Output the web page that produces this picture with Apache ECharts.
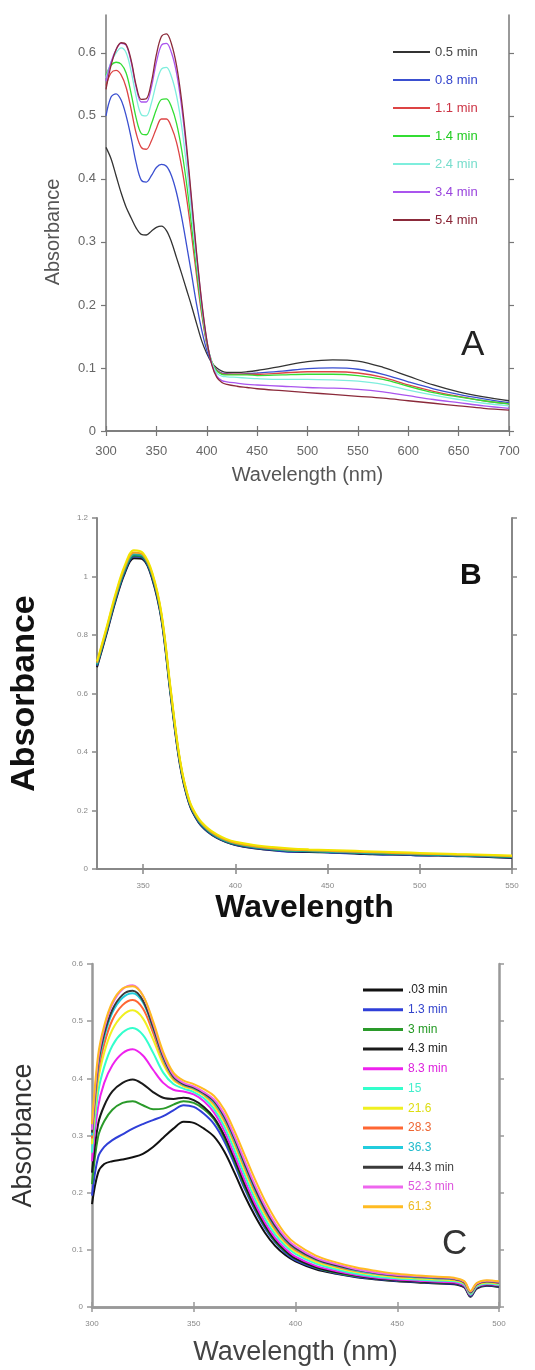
<!DOCTYPE html>
<html><head><meta charset="utf-8">
<script src="https://cdn.jsdelivr.net/npm/echarts@6/dist/echarts.min.js"></script>
<style>html,body{margin:0;padding:0;background:#fff}#c{width:535px;height:1370px}</style>
</head><body><div id="c"></div><script>
// ---------------- Panel A ----------------
const A_WAVE = [300,305,310,315,320,325,330,335,340,345,350,355,360,365,370,375,380,385,390,395,400,405,410,415,420,430,440,450,475,500,525,550,575,600,625,650,675,700];
const A_XTICKS = [300,350,400,450,500,550,600,650,700];
const A_YTICKS = [0,0.1,0.2,0.3,0.4,0.5,0.6];
const A_NAMES = ['0.5 min','0.8 min','1.1 min','1.4 min','2.4 min','3.4 min','5.4 min'];
const A_COLORS = ['#333333','#3a4fd0','#dd4444','#33dd33','#7eeedd','#aa55ee','#8b2a3a'];
const A_TEXT_COLORS = ['#444444','#3344cc','#cc3344','#22cc22','#77ddcc','#9944dd','#882233'];
const A_05 = [0.450,0.432,0.405,0.378,0.355,0.338,0.322,0.312,0.311,0.317,0.323,0.325,0.318,0.300,0.275,0.250,0.224,0.198,0.170,0.143,0.123,0.108,0.100,0.095,0.093,0.093,0.094,0.096,0.103,0.110,0.113,0.111,0.101,0.087,0.073,0.062,0.054,0.048];
const A_08 = [0.500,0.530,0.535,0.525,0.500,0.465,0.425,0.398,0.395,0.405,0.418,0.423,0.420,0.405,0.378,0.340,0.295,0.248,0.200,0.160,0.128,0.108,0.097,0.092,0.091,0.090,0.091,0.092,0.095,0.099,0.100,0.098,0.090,0.078,0.067,0.058,0.051,0.045];
const A_11 = [0.548,0.568,0.572,0.565,0.545,0.510,0.472,0.450,0.447,0.460,0.480,0.495,0.495,0.482,0.458,0.420,0.370,0.310,0.245,0.185,0.138,0.110,0.096,0.091,0.090,0.090,0.090,0.090,0.092,0.094,0.094,0.092,0.085,0.073,0.063,0.055,0.048,0.043];
const A_14 = [0.565,0.580,0.585,0.582,0.568,0.535,0.496,0.472,0.470,0.487,0.510,0.526,0.527,0.514,0.488,0.447,0.392,0.325,0.255,0.190,0.140,0.110,0.095,0.090,0.089,0.089,0.089,0.088,0.089,0.090,0.090,0.088,0.082,0.071,0.061,0.054,0.048,0.043];
const A_24 = [0.560,0.585,0.600,0.608,0.600,0.570,0.530,0.502,0.500,0.520,0.552,0.574,0.577,0.562,0.532,0.485,0.420,0.345,0.268,0.198,0.143,0.109,0.092,0.087,0.086,0.085,0.084,0.083,0.082,0.082,0.081,0.079,0.074,0.065,0.057,0.050,0.044,0.040];
const A_34 = [0.555,0.585,0.605,0.615,0.612,0.585,0.545,0.522,0.522,0.545,0.585,0.612,0.615,0.600,0.568,0.515,0.445,0.362,0.278,0.203,0.144,0.106,0.087,0.080,0.078,0.076,0.074,0.073,0.071,0.069,0.068,0.066,0.062,0.056,0.050,0.045,0.040,0.036];
const A_54 = [0.542,0.580,0.605,0.616,0.613,0.588,0.548,0.526,0.527,0.553,0.597,0.626,0.630,0.614,0.580,0.525,0.452,0.367,0.281,0.205,0.145,0.105,0.085,0.077,0.074,0.071,0.069,0.067,0.064,0.061,0.058,0.055,0.052,0.048,0.044,0.040,0.036,0.033];
const A_SERIES = [A_05,A_08,A_11,A_14,A_24,A_34,A_54];

// ---------------- Panel B ----------------
const B_WAVE = [325,330,335,340,345,350,355,360,365,370,375,380,385,390,395,400,410,420,430,440,450,460,470,480,490,500,510,520,530,540,550];
const B_XTICKS = [350,400,450,500,550];
const B_YTICKS = [0,0.2,0.4,0.6,0.8,1,1.2];
const B_NAMES = ['scan 1','scan 2','scan 3','scan 4','scan 5','scan 6'];
const B_COLORS = ['#111111','#2233bb','#1e8c3a','#22aaaa','#f0a020','#f2e400'];
const B_1 = [0.690,0.800,0.915,1.010,1.062,1.058,0.990,0.850,0.590,0.355,0.222,0.160,0.127,0.106,0.092,0.082,0.071,0.064,0.060,0.058,0.057,0.055,0.051,0.050,0.049,0.047,0.046,0.045,0.043,0.040,0.038];
const B_2 = [0.695,0.805,0.920,1.015,1.068,1.062,0.995,0.855,0.595,0.360,0.225,0.162,0.128,0.107,0.093,0.083,0.072,0.065,0.059,0.060,0.056,0.054,0.053,0.049,0.050,0.046,0.047,0.044,0.044,0.041,0.039];
const B_3 = [0.698,0.810,0.925,1.020,1.072,1.066,1.000,0.860,0.600,0.364,0.228,0.165,0.131,0.110,0.095,0.085,0.074,0.067,0.062,0.061,0.058,0.057,0.054,0.052,0.051,0.049,0.048,0.046,0.045,0.043,0.041];
const B_4 = [0.700,0.812,0.928,1.024,1.076,1.070,1.004,0.864,0.604,0.367,0.230,0.167,0.133,0.111,0.096,0.087,0.075,0.068,0.063,0.062,0.059,0.058,0.055,0.054,0.052,0.050,0.049,0.047,0.046,0.044,0.042];
const B_5 = [0.705,0.817,0.934,1.030,1.082,1.074,1.008,0.868,0.608,0.370,0.233,0.170,0.136,0.114,0.099,0.089,0.078,0.071,0.066,0.064,0.062,0.060,0.058,0.056,0.054,0.052,0.051,0.049,0.048,0.046,0.044];
const B_6 = [0.710,0.822,0.940,1.037,1.090,1.080,1.013,0.873,0.613,0.374,0.236,0.174,0.140,0.118,0.103,0.093,0.082,0.075,0.070,0.067,0.065,0.063,0.061,0.059,0.057,0.055,0.053,0.051,0.050,0.048,0.046];
const B_SERIES = [B_1,B_2,B_3,B_4,B_5,B_6];

// ---------------- Panel C ----------------
const C_WAVE = [300,303,306,310,315,320,325,330,335,340,345,350,355,360,365,370,375,380,385,390,395,400,410,420,430,440,450,460,470,478,483,486,489,494,500];
const C_XTICKS = [300,350,400,450,500];
const C_YTICKS = [0,0.1,0.2,0.3,0.4,0.5,0.6];
const C_NAMES = ['.03 min','1.3 min','3 min','4.3 min','8.3 min','15','21.6','28.3','36.3','44.3 min','52.3 min','61.3'];
const C_COLORS = ['#111111','#2f3fd8','#2a9a2a','#1a1a1a','#ee22ee','#33ffcc','#f0f020','#ff6633','#22ccdd','#3a3a3a','#ee66ee','#ffbb22'];
const C_TEXT_COLORS = ['#222222','#3344cc','#229922','#222222','#dd22dd','#44eecc','#dddd11','#ee6633','#22bbcc','#444444','#dd55dd','#eebb22'];
const C_003 = [0.180,0.235,0.250,0.255,0.258,0.262,0.268,0.280,0.296,0.312,0.324,0.322,0.312,0.298,0.272,0.235,0.195,0.160,0.130,0.107,0.091,0.080,0.066,0.058,0.052,0.048,0.045,0.043,0.041,0.040,0.034,0.018,0.032,0.037,0.035];
const C_13 = [0.195,0.262,0.280,0.292,0.302,0.312,0.320,0.327,0.334,0.344,0.353,0.350,0.338,0.320,0.290,0.250,0.207,0.170,0.138,0.113,0.095,0.082,0.068,0.059,0.053,0.049,0.046,0.044,0.042,0.041,0.035,0.019,0.033,0.038,0.036];
const C_3 = [0.215,0.298,0.325,0.345,0.357,0.360,0.353,0.346,0.347,0.354,0.360,0.357,0.346,0.328,0.296,0.255,0.211,0.173,0.141,0.115,0.097,0.084,0.069,0.060,0.054,0.050,0.047,0.045,0.043,0.042,0.036,0.020,0.034,0.039,0.037];
const C_43 = [0.235,0.320,0.352,0.377,0.392,0.398,0.390,0.376,0.366,0.364,0.366,0.362,0.350,0.331,0.300,0.259,0.215,0.176,0.143,0.117,0.099,0.085,0.070,0.061,0.055,0.050,0.047,0.045,0.043,0.042,0.036,0.020,0.034,0.039,0.037];
const C_83 = [0.255,0.350,0.392,0.423,0.444,0.451,0.440,0.415,0.392,0.380,0.377,0.372,0.360,0.340,0.308,0.266,0.222,0.182,0.148,0.121,0.102,0.088,0.072,0.063,0.056,0.051,0.048,0.046,0.044,0.043,0.037,0.021,0.035,0.040,0.038];
const C_15 = [0.270,0.375,0.420,0.457,0.480,0.488,0.476,0.445,0.410,0.390,0.382,0.376,0.365,0.346,0.316,0.275,0.231,0.190,0.155,0.127,0.107,0.093,0.076,0.066,0.058,0.053,0.050,0.048,0.046,0.045,0.039,0.022,0.036,0.041,0.039];
const C_216 = [0.285,0.395,0.445,0.485,0.510,0.519,0.505,0.468,0.425,0.397,0.386,0.380,0.370,0.352,0.324,0.284,0.240,0.198,0.162,0.133,0.112,0.097,0.079,0.069,0.061,0.056,0.052,0.050,0.048,0.047,0.041,0.024,0.038,0.043,0.041];
const C_283 = [0.295,0.410,0.460,0.502,0.528,0.537,0.522,0.480,0.432,0.400,0.388,0.382,0.372,0.356,0.328,0.289,0.245,0.203,0.167,0.137,0.115,0.100,0.082,0.071,0.063,0.058,0.054,0.052,0.050,0.048,0.042,0.025,0.039,0.044,0.042];
const C_363 = [0.300,0.420,0.472,0.515,0.541,0.549,0.533,0.488,0.436,0.402,0.389,0.383,0.373,0.358,0.331,0.292,0.248,0.206,0.170,0.140,0.117,0.102,0.083,0.072,0.064,0.058,0.055,0.052,0.050,0.049,0.043,0.025,0.040,0.045,0.043];
const C_443 = [0.305,0.425,0.478,0.520,0.546,0.553,0.536,0.490,0.438,0.403,0.390,0.384,0.374,0.360,0.333,0.295,0.251,0.209,0.172,0.142,0.119,0.103,0.084,0.073,0.065,0.059,0.055,0.053,0.051,0.049,0.043,0.026,0.040,0.045,0.043];
const C_523 = [0.310,0.432,0.487,0.530,0.556,0.563,0.545,0.497,0.442,0.406,0.392,0.386,0.376,0.363,0.337,0.299,0.256,0.214,0.177,0.146,0.122,0.106,0.086,0.075,0.066,0.060,0.056,0.054,0.052,0.050,0.044,0.027,0.041,0.046,0.044];
const C_613 = [0.320,0.440,0.492,0.533,0.557,0.561,0.545,0.500,0.446,0.410,0.396,0.390,0.381,0.369,0.345,0.308,0.266,0.224,0.186,0.154,0.128,0.111,0.090,0.078,0.069,0.063,0.058,0.055,0.053,0.051,0.045,0.028,0.042,0.047,0.045];
const C_SERIES = [C_003,C_13,C_3,C_43,C_83,C_15,C_216,C_283,C_363,C_443,C_523,C_613];

// ---------------- Chart ----------------
const FONT = 'Liberation Sans, Arial, sans-serif';
const pairs = (xs, ys) => xs.map((x, i) => [x, ys[i]]);

function axisPair(gi, min, max, interval, ticks, st, isX, name, nameOpt) {
  const line = {show: true, lineStyle: {color: st.line, width: st.lw}};
  const tick = {show: true, inside: false, length: st.tl, customValues: ticks, lineStyle: {color: st.line, width: st.tw}};
  const main = {
    type: 'value', gridIndex: gi, min: min, max: max, position: isX ? 'bottom' : 'left',
    axisLine: line, axisTick: tick, splitLine: {show: false},
    axisLabel: {show: true, customValues: ticks, fontSize: st.fs, color: st.lc, margin: isX ? st.xm : st.ym, fontFamily: FONT,
      formatter: v => ticks.some(t => Math.abs(t - v) < 1e-9) ? String(parseFloat(v.toFixed(3))) : ''},
    name: name, nameLocation: 'middle', nameGap: nameOpt.gap,
    nameTextStyle: {fontSize: nameOpt.fs, color: nameOpt.color, fontWeight: nameOpt.fw, fontFamily: FONT, padding: nameOpt.pad || 0}
  };
  if (interval) main.interval = interval;
  const mirror = {
    type: 'value', gridIndex: gi, min: min, max: max, position: isX ? 'top' : 'right',
    axisLine: line, axisTick: tick, splitLine: {show: false}, axisLabel: {show: false}
  };
  if (interval) mirror.interval = interval;
  return [main, mirror];
}

const stA = {line: '#777', lw: 1.5, tl: 5, tw: 1.2, fs: 13, lc: '#666', xm: 14, ym: 10};
const stB = {line: '#888', lw: 2, tl: 5, tw: 1.5, fs: 8, lc: '#888', xm: 13, ym: 9};
const stC = {line: '#999', lw: 2.5, tl: 5, tw: 1.5, fs: 8, lc: '#888', xm: 13, ym: 9};

const xA = axisPair(0, 300, 700, 50, A_XTICKS, stA, true, 'Wavelength (nm)', {gap: 34, fs: 20, color: '#555', fw: 'normal'});
const yA = axisPair(0, 0, 0.66, 0.1, A_YTICKS, stA, false, 'Absorbance', {gap: 43, fs: 20, color: '#555', fw: 'normal', pad: [0, 18, 0, 0]});
const xB = axisPair(1, 325, 550, null, B_XTICKS, stB, true, 'Wavelength', {gap: 23, fs: 32, color: '#111', fw: 'bold'});
const yB = axisPair(1, 0, 1.2, 0.2, B_YTICKS, stB, false, 'Absorbance', {gap: 55, fs: 34, color: '#111', fw: 'bold'});
const xC = axisPair(2, 300, 500, 50, C_XTICKS, stC, true, 'Wavelength (nm)', {gap: 32, fs: 27, color: '#444', fw: 'normal'});
const yC = axisPair(2, 0, 0.6, 0.1, C_YTICKS, stC, false, 'Absorbance', {gap: 55, fs: 27, color: '#333', fw: 'normal'});
xB[0].splitNumber = 5; xB[1].splitNumber = 5;

const series = [];
A_SERIES.forEach((ys, i) => series.push({
  name: A_NAMES[i], type: 'line', xAxisIndex: 0, yAxisIndex: 0, data: pairs(A_WAVE, ys),
  showSymbol: false, symbol: 'none', smooth: 0.35, z: 2,
  lineStyle: {color: A_COLORS[i], width: 1.3}, itemStyle: {color: A_COLORS[i]}
}));
B_SERIES.forEach((ys, i) => series.push({
  name: B_NAMES[i], type: 'line', xAxisIndex: 2, yAxisIndex: 2, data: pairs(B_WAVE, ys),
  showSymbol: false, symbol: 'none', smooth: 0.35, z: 2,
  lineStyle: {color: B_COLORS[i], width: 2}, itemStyle: {color: B_COLORS[i]}
}));
C_SERIES.forEach((ys, i) => series.push({
  name: C_NAMES[i], type: 'line', xAxisIndex: 4, yAxisIndex: 4, data: pairs(C_WAVE, ys),
  showSymbol: false, symbol: 'none', smooth: 0.35, z: 2,
  lineStyle: {color: C_COLORS[i], width: 2}, itemStyle: {color: C_COLORS[i]}
}));

const option = {
  animation: false,
  backgroundColor: '#fff',
  textStyle: {fontFamily: FONT},
  grid: [
    {left: 106, top: 15, width: 403, height: 416},
    {left: 97, top: 518, width: 415, height: 351},
    {left: 92, top: 964, width: 407, height: 343}
  ],
  xAxis: [xA[0], xA[1], xB[0], xB[1], xC[0], xC[1]],
  yAxis: [yA[0], yA[1], yB[0], yB[1], yC[0], yC[1]],
  title: [
    {text: 'A', left: 461, top: 328, padding: 0, textStyle: {fontSize: 35, fontWeight: 'normal', color: '#222', fontFamily: FONT}},
    {text: 'B', left: 460, top: 561, padding: 0, textStyle: {fontSize: 30, fontWeight: 'bold', color: '#111', fontFamily: FONT}},
    {text: 'C', left: 442, top: 1227, padding: 0, textStyle: {fontSize: 35, fontWeight: 'normal', color: '#333', fontFamily: FONT}}
  ],
  legend: [
    {orient: 'vertical', left: 393, top: 45, padding: 0, itemGap: 14, itemWidth: 37, itemHeight: 2, icon: 'rect', selectedMode: false,
     textStyle: {fontSize: 13, lineHeight: 14, fontFamily: FONT},
     data: A_NAMES.map((n, i) => ({name: n, textStyle: {color: A_TEXT_COLORS[i]}}))},
    {orient: 'vertical', left: 363, top: 984, padding: 0, itemGap: 7.7, itemWidth: 40, itemHeight: 3, icon: 'rect', selectedMode: false,
     textStyle: {fontSize: 12, lineHeight: 12, fontFamily: FONT},
     data: C_NAMES.map((n, i) => ({name: n, textStyle: {color: C_TEXT_COLORS[i]}}))}
  ],
  series: series
};
const chart = echarts.init(document.getElementById('c'), null, {renderer: 'canvas'});
chart.setOption(option);
</script></body></html>
